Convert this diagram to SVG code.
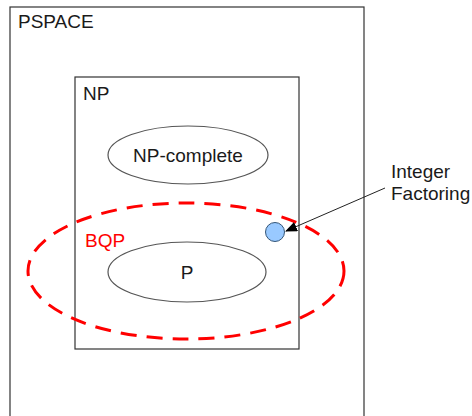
<svg xmlns="http://www.w3.org/2000/svg" width="472" height="416" viewBox="0 0 472 416">
<style>
text{font-family:"Liberation Sans",Arial,sans-serif;font-size:19px;fill:#1a1a1a}
.box{fill:none;stroke:#333;stroke-width:1.2}
.ell{fill:none;stroke:#555;stroke-width:1.2}
</style>
<defs>
<marker id="ah" markerWidth="12" markerHeight="10" refX="11" refY="5" orient="auto" markerUnits="userSpaceOnUse">
<path d="M0,0 L12,5 L0,10 Z" fill="#000"/>
</marker>
</defs>
<rect width="472" height="416" fill="#fff"/>
<g id="pspace">
<rect class="box" x="10" y="7" width="354" height="420"/>
<text x="18" y="28">PSPACE</text>
</g>
<g id="np">
<rect class="box" x="75" y="77" width="224" height="272"/>
<text x="83" y="100">NP</text>
</g>
<g id="npcomplete">
<ellipse class="ell" cx="188" cy="155" rx="80" ry="29"/>
<text x="188" y="162" text-anchor="middle">NP-complete</text>
</g>
<g id="p">
<ellipse class="ell" cx="187" cy="272" rx="79" ry="30"/>
<text x="187" y="279" text-anchor="middle">P</text>
</g>
<g id="bqp">
<ellipse cx="186" cy="271" rx="158" ry="68" fill="none" stroke="#f00" stroke-width="3" stroke-dasharray="16 10"/>
<text x="85" y="247" style="fill:#f00">BQP</text>
</g>
<g id="factoring">
<circle cx="275" cy="232" r="9.5" fill="#99c9ff" stroke="#335577" stroke-width="1"/>
<text x="391" y="178">Integer</text>
<text x="391" y="200">Factoring</text>
</g>
<g id="connectors">
<line x1="385" y1="188" x2="286" y2="231" stroke="#222" stroke-width="1" marker-end="url(#ah)"/>
</g>
</svg>
